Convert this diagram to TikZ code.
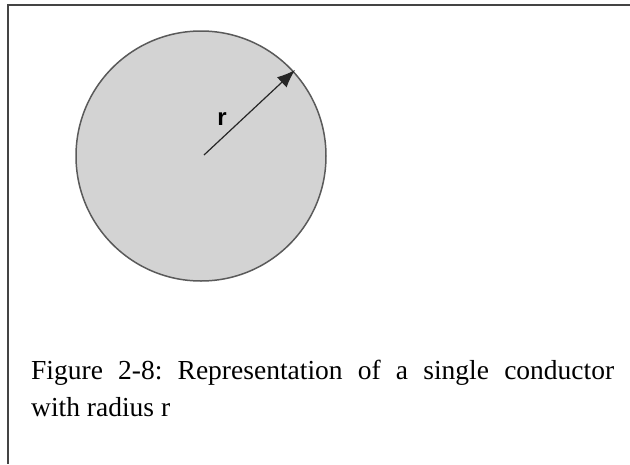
\documentclass[tikz,border=0pt]{standalone}
\usepackage{fontspec}
\setmainfont{Liberation Serif}
\setsansfont{Liberation Sans}
\usetikzlibrary{arrows.meta}
\frenchspacing
\definecolor{framegray}{HTML}{444444}
\definecolor{discfill}{HTML}{D3D3D3}
\definecolor{discedge}{HTML}{5A5A5A}
\tikzset{
  frameline/.style={draw=framegray, line width=1.5pt},
  disc/.style={circle, fill=discfill, draw=discedge, line width=1.5pt, minimum size=250pt, inner sep=0pt},
  radiusarrow/.style={draw=black!85, line width=1.2pt, -{Latex[length=18pt,width=14pt]}},
  caption/.style={anchor=north west, inner sep=0pt, text width=583pt, align=justify,
    font=\fontsize{27.5}{37}\selectfont},
  rlabel/.style={inner sep=0pt, font=\sffamily\bfseries\fontsize{24}{24}\selectfont}
}
\begin{document}
\begin{tikzpicture}[x=1pt, y=-1pt]
\useasboundingbox (0,0) rectangle (630,464);
\coordinate (ftop) at (630,5);
\coordinate (fcorner) at (8,5);
\coordinate (fbottom) at (8,464);
\draw[frameline] (ftop) -- (fcorner) -- (fbottom);
\node[disc] (c) at (201,156) {};
\coordinate (ctr) at (204,155);
\coordinate (tip) at (295,70);
\draw[radiusarrow] (ctr) -- (tip);
\node[rlabel] (r) at (222,119) {r};
\node[caption] (cap) at (31,359.5) {\hbadness=10000 Figure 2-8: Representation of a single conductor\linebreak with radius r};
\end{tikzpicture}
\end{document}
